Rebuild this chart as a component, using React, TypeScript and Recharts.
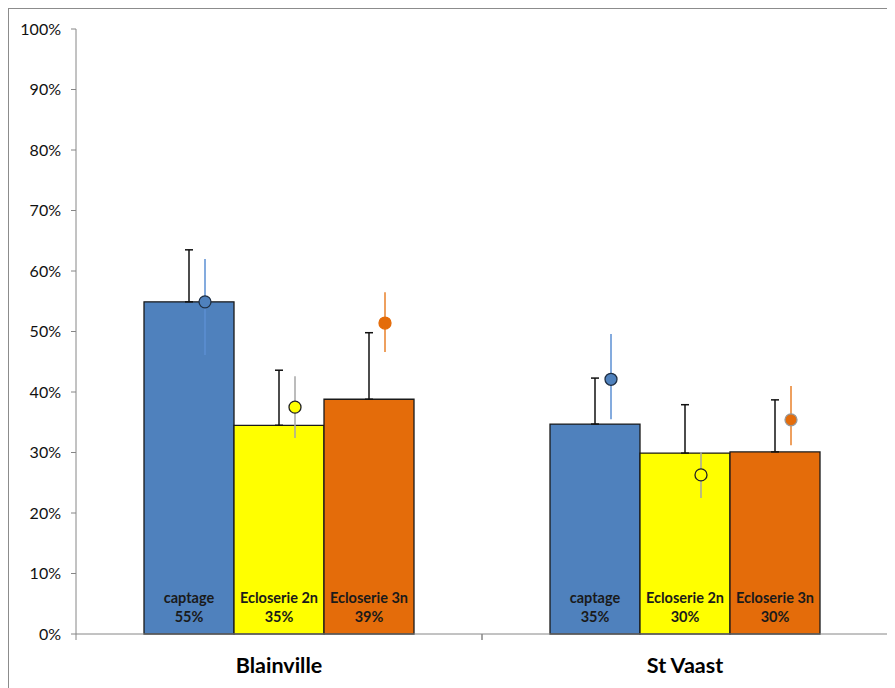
import { ComposedChart, Bar, XAxis, YAxis, ErrorBar, LabelList } from 'recharts'

const categories = ['Blainville', 'St Vaast']
const seriesNames = ['captage', 'Ecloserie 2n', 'Ecloserie 3n']

// bar heights (fraction)
const captage = [0.549, 0.347]
const ecloserie2n = [0.345, 0.299]
const ecloserie3n = [0.388, 0.301]

// upper error on bars
const captageErr = [0.086, 0.076]
const ecloserie2nErr = [0.091, 0.08]
const ecloserie3nErr = [0.11, 0.086]

// dot series with low / high range
const captagePt = [0.549, 0.421]
const captageLow = [0.461, 0.355]
const captageHigh = [0.62, 0.496]
const ecl2nPt = [0.375, 0.263]
const ecl2nLow = [0.324, 0.225]
const ecl2nHigh = [0.426, 0.301]
const ecl3nPt = [0.514, 0.354]
const ecl3nLow = [0.466, 0.312]
const ecl3nHigh = [0.565, 0.41]

const yTicks = [0, 0.1, 0.2, 0.3, 0.4, 0.5, 0.6, 0.7, 0.8, 0.9, 1]

const data = categories.map((c, i) => ({
  name: c,
  s0: captage[i],
  s1: ecloserie2n[i],
  s2: ecloserie3n[i],
  e0: [0, captageErr[i]],
  e1: [0, ecloserie2nErr[i]],
  e2: [0, ecloserie3nErr[i]],
  p0: captagePt[i],
  p1: ecl2nPt[i],
  p2: ecl3nPt[i],
  r0: [captagePt[i] - captageLow[i], captageHigh[i] - captagePt[i]],
  r1: [ecl2nPt[i] - ecl2nLow[i], ecl2nHigh[i] - ecl2nPt[i]],
  r2: [ecl3nPt[i] - ecl3nLow[i], ecl3nHigh[i] - ecl3nPt[i]],
}))

const FONT = 'Lato, "Liberation Sans", sans-serif'

const barColors = ['#4f81bd', '#ffff00', '#e46c0a']
const lineColors = ['#5b8fd3', '#a6a6a6', '#e8802a']
const dotStrokes = [['#1f2f44', '#1f2f44'], ['#222', '#222'], ['#e46c0a', '#999']]

const makeBarLabel = (label: string) => (props: any) => {
  const { x, y, width, height, value } = props
  const cx = x + width / 2
  const base = y + height
  return (
    <g>
      <text x={cx} y={base - 35} textAnchor="middle" dominantBaseline="middle"
        fontFamily={FONT} fontWeight="bold" fontSize={14.5} fill="#1a1a1a">{label}</text>
      <text x={cx} y={base - 16} textAnchor="middle" dominantBaseline="middle"
        fontFamily={FONT} fontWeight="bold" fontSize={14.5} fill="#1a1a1a">{Math.round(value * 100)}%</text>
    </g>
  )
}

const makeDot = (s: number) => (props: any) => {
  const { x, y, width, index } = props
  return (
    <circle cx={x + width / 2} cy={y} r={6} fill={barColors[s]}
      stroke={dotStrokes[s][index]} strokeWidth={1.3} />
  )
}

const CategoryTick = (props: any) => {
  const { x, y, payload } = props
  const off = payload && payload.offset ? payload.offset : 203
  return (
    <g>
      <line x1={x - off} x2={x - off} y1={y} y2={y + 6} stroke="#868686" />
      <line x1={x + off} x2={x + off} y1={y} y2={y + 6} stroke="#868686" />
      <text x={x} y={y + 33} textAnchor="middle" dominantBaseline="middle"
        fontFamily={FONT} fontWeight="bold" fontSize={21.5} fill="#000">{payload.value}</text>
    </g>
  )
}

export default function App() {
  return (
    <div style={{ width: 887, height: 680, borderTop: '1px solid #8c8c8c', borderLeft: '1px solid #8c8c8c', boxSizing: 'border-box', background: '#fff' }}>
      <ComposedChart width={886} height={679} data={data} barGap={0}
        margin={{ top: 20, right: 7, bottom: 4, left: 10 }}>
        <XAxis dataKey="name" xAxisId="main" stroke="#868686" tickLine={false}
          tickSize={0} tickMargin={0} height={50} tick={<CategoryTick />} interval={0} />
        <XAxis dataKey="name" xAxisId="pts" hide padding={{ left: 16, right: -16 }} />
        <YAxis domain={[0, 1]} ticks={yTicks} width={57} stroke="#868686" tickSize={5}
          tickMargin={10} tickFormatter={(v: number) => `${Math.round(v * 100)}%`}
          tick={{ fontFamily: FONT, fontSize: 16, fill: '#111' }} />
        {[0, 1, 2].map((s) => (
          <Bar key={`b${s}`} xAxisId="main" dataKey={`s${s}`} barSize={90} fill={barColors[s]}
            stroke="#1a1a1a" strokeWidth={1.3} isAnimationActive={false}>
            <ErrorBar dataKey={`e${s}`} width={4} stroke="#111" strokeWidth={1.5} direction="y" />
            <LabelList dataKey={`s${s}`} content={makeBarLabel(seriesNames[s])} />
          </Bar>
        ))}
        {[0, 1, 2].map((s) => (
          <Bar key={`p${s}`} xAxisId="pts" dataKey={`p${s}`} barSize={90} fill="transparent"
            isAnimationActive={false}>
            <ErrorBar dataKey={`r${s}`} width={0} stroke={lineColors[s]} strokeWidth={1.5} direction="y" />
            <LabelList dataKey={`p${s}`} content={makeDot(s)} />
          </Bar>
        ))}
      </ComposedChart>
    </div>
  )
}
